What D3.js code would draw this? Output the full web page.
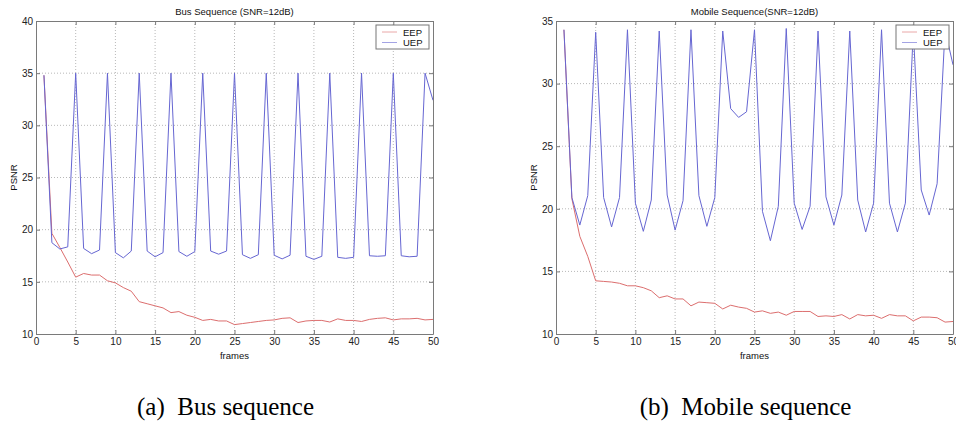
<!DOCTYPE html>
<html>
<head>
<meta charset="utf-8">
<script src="https://cdn.jsdelivr.net/npm/d3@7"></script>
<style>
  body { margin: 0; background: #fff; }
  text { font-family: "Liberation Sans", Arial, sans-serif; }
  text.caption { font-family: "Liberation Serif", "Times New Roman", serif; white-space: pre; }
</style>
</head>
<body>
<svg id="chart" width="956" height="425"></svg>
<script>
// frame numbers 1..50
const frames = d3.range(1, 51);

// Bus sequence PSNR values
const busEEP = [34.8, 19.65, 18.3, 16.9, 15.45, 15.8, 15.65, 15.65, 15.1, 14.9,
  14.45, 14.1, 13.1, 12.9, 12.7, 12.5, 12.05, 12.15, 11.8, 11.6,
  11.3, 11.4, 11.25, 11.25, 10.9, 11.0, 11.1, 11.2, 11.3, 11.35,
  11.5, 11.55, 11.1, 11.25, 11.3, 11.3, 11.15, 11.45, 11.3, 11.3,
  11.2, 11.4, 11.5, 11.55, 11.35, 11.45, 11.45, 11.5, 11.35, 11.4];
const busUEP = [34.8, 18.75, 18.15, 18.35, 35.0, 18.2, 17.7, 18.05, 35.0, 17.8,
  17.3, 17.95, 35.0, 17.95, 17.4, 17.8, 35.0, 17.9, 17.45, 17.9,
  35.0, 17.95, 17.65, 17.95, 35.0, 17.6, 17.25, 17.6, 35.0, 17.55,
  17.2, 17.55, 35.0, 17.45, 17.15, 17.45, 35.0, 17.35, 17.25, 17.35,
  35.0, 17.5, 17.45, 17.5, 35.0, 17.5, 17.4, 17.45, 35.0, 32.4];

// Mobile sequence PSNR values
const mobileEEP = [34.3, 20.8, 17.8, 16.2, 14.25, 14.2, 14.15, 14.05, 13.85, 13.85,
  13.7, 13.45, 12.9, 13.05, 12.8, 12.8, 12.25, 12.55, 12.5, 12.45,
  12.0, 12.3, 12.15, 12.05, 11.75, 11.85, 11.65, 11.75, 11.5, 11.8,
  11.8, 11.8, 11.4, 11.45, 11.4, 11.55, 11.2, 11.55, 11.45, 11.5,
  11.25, 11.55, 11.45, 11.45, 11.05, 11.35, 11.35, 11.3, 10.95, 11.0];
const mobileUEP = [34.3, 20.9, 18.7, 21.05, 34.1, 20.9, 18.55, 20.9, 34.3, 20.45,
  18.2, 20.7, 34.2, 21.1, 18.3, 20.65, 34.3, 21.05, 18.6, 20.9,
  34.2, 28.0, 27.3, 27.75, 34.3, 19.8, 17.45, 20.2, 34.4, 20.45,
  18.35, 20.2, 34.2, 20.95, 18.7, 21.1, 34.2, 20.7, 18.15, 20.45,
  34.3, 20.45, 18.15, 20.45, 34.2, 21.5, 19.5, 22.0, 34.3, 31.5];

const xTicks = [0, 5, 10, 15, 20, 25, 30, 35, 40, 45, 50];
const busYTicks = [10, 15, 20, 25, 30, 35, 40];
const mobileYTicks = [10, 15, 20, 25, 30, 35];
const legendNames = ["EEP", "UEP"];

const eepColor = "#dc6e6e";
const uepColor = "#6666d2";

let svg = d3.select("#chart");

//draw one matlab style panel
function drawPanel(left, right, yDomain, yTicks, eep, uep, title, caption) {
    let top = 21, bottom = 334;
    let x = d3.scaleLinear().domain([0, 50]).range([left, right]);
    let y = d3.scaleLinear().domain(yDomain).range([bottom, top]);
    let g = svg.append("g");

    //dotted grid
    g.selectAll(".gx").data(xTicks.slice(1, -1)).join("line")
        .attr("x1", d => x(d)).attr("x2", d => x(d))
        .attr("y1", top).attr("y2", bottom)
        .attr("stroke", "#b8b8b8").attr("stroke-dasharray", "1,2");
    g.selectAll(".gy").data(yTicks.slice(1, -1)).join("line")
        .attr("x1", left).attr("x2", right)
        .attr("y1", d => y(d)).attr("y2", d => y(d))
        .attr("stroke", "#b8b8b8").attr("stroke-dasharray", "1,2");

    //lines
    let line = data => d3.line().x((d, i) => x(frames[i])).y(d => y(d))(data);
    g.append("path").attr("d", line(eep)).attr("fill", "none")
        .attr("stroke", eepColor).attr("stroke-width", 1);
    g.append("path").attr("d", line(uep)).attr("fill", "none")
        .attr("stroke", uepColor).attr("stroke-width", 1);

    //axes with inward ticks
    let ax = "#7a7a7a";
    g.append("g").attr("transform", `translate(0,${bottom})`)
        .call(d3.axisBottom(x).tickValues(xTicks).tickSize(-4).tickPadding(4).tickSizeOuter(0));
    g.append("g").attr("transform", `translate(0,${top})`)
        .call(d3.axisTop(x).tickValues(xTicks).tickSize(-4).tickFormat("").tickSizeOuter(0));
    g.append("g").attr("transform", `translate(${left},0)`)
        .call(d3.axisLeft(y).tickValues(yTicks).tickSize(-4).tickPadding(3).tickSizeOuter(0));
    g.append("g").attr("transform", `translate(${right},0)`)
        .call(d3.axisRight(y).tickValues(yTicks).tickSize(-4).tickFormat("").tickSizeOuter(0));
    g.selectAll(".domain, .tick line").attr("stroke", ax);
    g.selectAll(".tick text").attr("font-size", 10).attr("fill", "#222")
        .attr("font-family", "Liberation Sans, Arial, sans-serif");

    //title and labels
    g.append("text").attr("x", (left + right) / 2).attr("y", 15)
        .attr("text-anchor", "middle").attr("font-size", 9.5).attr("fill", "#111").text(title);
    g.append("text").attr("x", (left + right) / 2).attr("y", 359)
        .attr("text-anchor", "middle").attr("font-size", 9.5).attr("fill", "#111").text("frames");
    g.append("text").attr("transform", `translate(${left - 19},${(top + bottom) / 2}) rotate(-90)`)
        .attr("text-anchor", "middle").attr("font-size", 9.5).attr("fill", "#111").text("PSNR");

    //legend
    let lx = right - 57, ly = 25;
    g.append("rect").attr("x", lx).attr("y", ly).attr("width", 53).attr("height", 24)
        .attr("fill", "#fff").attr("stroke", "#777");
    let colors = [eepColor, uepColor];
    legendNames.forEach((name, i) => {
        let yy = ly + 7 + i * 10.5;
        g.append("line").attr("x1", lx + 6).attr("x2", lx + 21).attr("y1", yy).attr("y2", yy)
            .attr("stroke", colors[i]).attr("stroke-opacity", 0.6);
        g.append("text").attr("x", lx + 27).attr("y", yy + 3.5)
            .attr("font-size", 9.5).attr("fill", "#111").text(name);
    });

    //caption under the figure
    g.append("text").attr("class", "caption")
        .attr("x", (left + right) / 2 - 9).attr("y", 415)
        .attr("text-anchor", "middle").attr("font-size", 25)
        .text(caption);
}

drawPanel(36, 433, [10, 40], busYTicks, busEEP, busUEP, "Bus Sequence (SNR=12dB)", "(a)  Bus sequence");
drawPanel(556, 953, [10, 35], mobileYTicks, mobileEEP, mobileUEP, "Mobile Sequence(SNR=12dB)", "(b)  Mobile sequence");
</script>
</body>
</html>
